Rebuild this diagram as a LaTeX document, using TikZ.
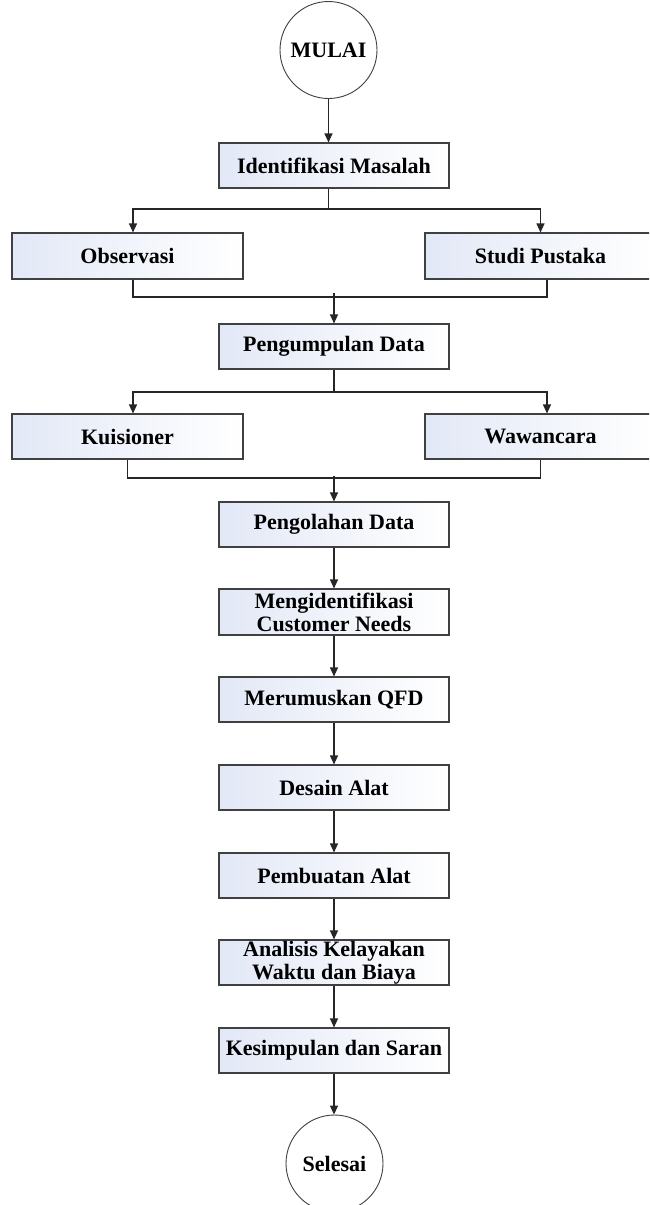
\documentclass[tikz,border=0pt]{standalone}
\usepackage{fontspec}
\setmainfont{Liberation Serif}
\usetikzlibrary{arrows.meta}
\definecolor{boxblue}{RGB}{226,232,246}
\definecolor{edge}{RGB}{64,64,64}
\tikzset{
  procbox/.style={rectangle, draw=edge, line width=1.1pt, left color=boxblue, right color=white,
    minimum height=45pt, inner sep=0pt, align=center,
    font=\fontsize{22}{23}\selectfont\bfseries},
  termcirc/.style={circle, draw=edge, line width=0.9pt, fill=white, minimum size=97pt, inner sep=0pt,
    font=\fontsize{22}{23}\selectfont\bfseries},
  conn/.style={draw=black!85, line width=1.1pt},
  arr/.style={conn, -{Triangle[length=9pt,width=8pt]}}
}
\begin{document}
\begin{tikzpicture}[x=1pt,y=-1pt]
\clip (0,0) rectangle (649,1205);
\fill[white] (0,0) rectangle (649,1205);

\node[termcirc] (mulai) at (328.5,50) {MULAI};
\node[procbox, minimum width=230pt] (idm) at (334,165.5) {Identifikasi Masalah};
\node[procbox, minimum width=231pt, minimum height=46pt] (obs) at (127.5,256) {Observasi};
\node[procbox, minimum width=231pt, minimum height=46pt] (stu) at (540.5,256) {Studi Pustaka};
\node[procbox, minimum width=230pt] (pd) at (334,346.5) {Pengumpulan Data};
\node[procbox, minimum width=231pt] (kui) at (127.5,436.5) {Kuisioner};
\node[procbox, minimum width=231pt] (waw) at (540.5,436.5) {Wawancara};
\node[procbox, minimum width=230pt] (pol) at (334,524.5) {Pengolahan Data};
\node[procbox, minimum width=230pt, minimum height=46pt] (mci) at (334,612) {Mengidentifikasi\\Customer Needs};
\node[procbox, minimum width=230pt] (qfd) at (334,699.5) {Merumuskan QFD};
\node[procbox, minimum width=230pt] (des) at (334,787.5) {Desain Alat};
\node[procbox, minimum width=230pt] (pem) at (334,875.5) {Pembuatan Alat};
\node[procbox, minimum width=230pt] (ana) at (334,962.5) {Analisis Kelayakan\\Waktu dan Biaya};
\node[procbox, minimum width=230pt] (kes) at (334,1050.5) {Kesimpulan dan Saran};
\node[termcirc] (sel) at (334.5,1163.5) {Selesai};

% MULAI -> Identifikasi
\draw[arr] (mulai.south) -- (mulai.south |- idm.north);

% branch 1
\coordinate (b1) at (328.5,209);
\draw[conn] (idm.south -| b1) -- (b1);
\draw[arr] (b1) -| ([xshift=5.5pt]obs.north);
\draw[arr] (b1) -| (stu.north);

% merge 1
\coordinate (m1) at (334,297);
\draw[conn] ([xshift=5.5pt]obs.south) |- (m1) -| ([xshift=6.5pt]stu.south);
\draw[arr] ([yshift=4pt]m1) -- (m1 |- pd.north);

% branch 2
\coordinate (b2) at (334,392);
\draw[conn] (pd.south -| b2) -- (b2);
\draw[arr] (b2) -| ([xshift=5.5pt]kui.north);
\draw[arr] (b2) -| ([xshift=6.5pt]waw.north);

% merge 2
\coordinate (m2) at (334,478);
\draw[conn] (kui.south) |- (m2) -| (waw.south);
\draw[arr] ([yshift=2pt]m2) -- (m2 |- pol.north);

% main chain
\draw[arr] (pol.south) -- (mci.north);
\draw[arr] (mci.south) -- (qfd.north);
\draw[arr] (qfd.south) -- (des.north);
\draw[arr] (des.south) -- (pem.north);
\draw[arr] (pem.south) -- (ana.north);
\draw[arr] (ana.south) -- (kes.north);
\draw[arr] (kes.south) -- (kes.south |- sel.north);
\end{tikzpicture}
\end{document}
